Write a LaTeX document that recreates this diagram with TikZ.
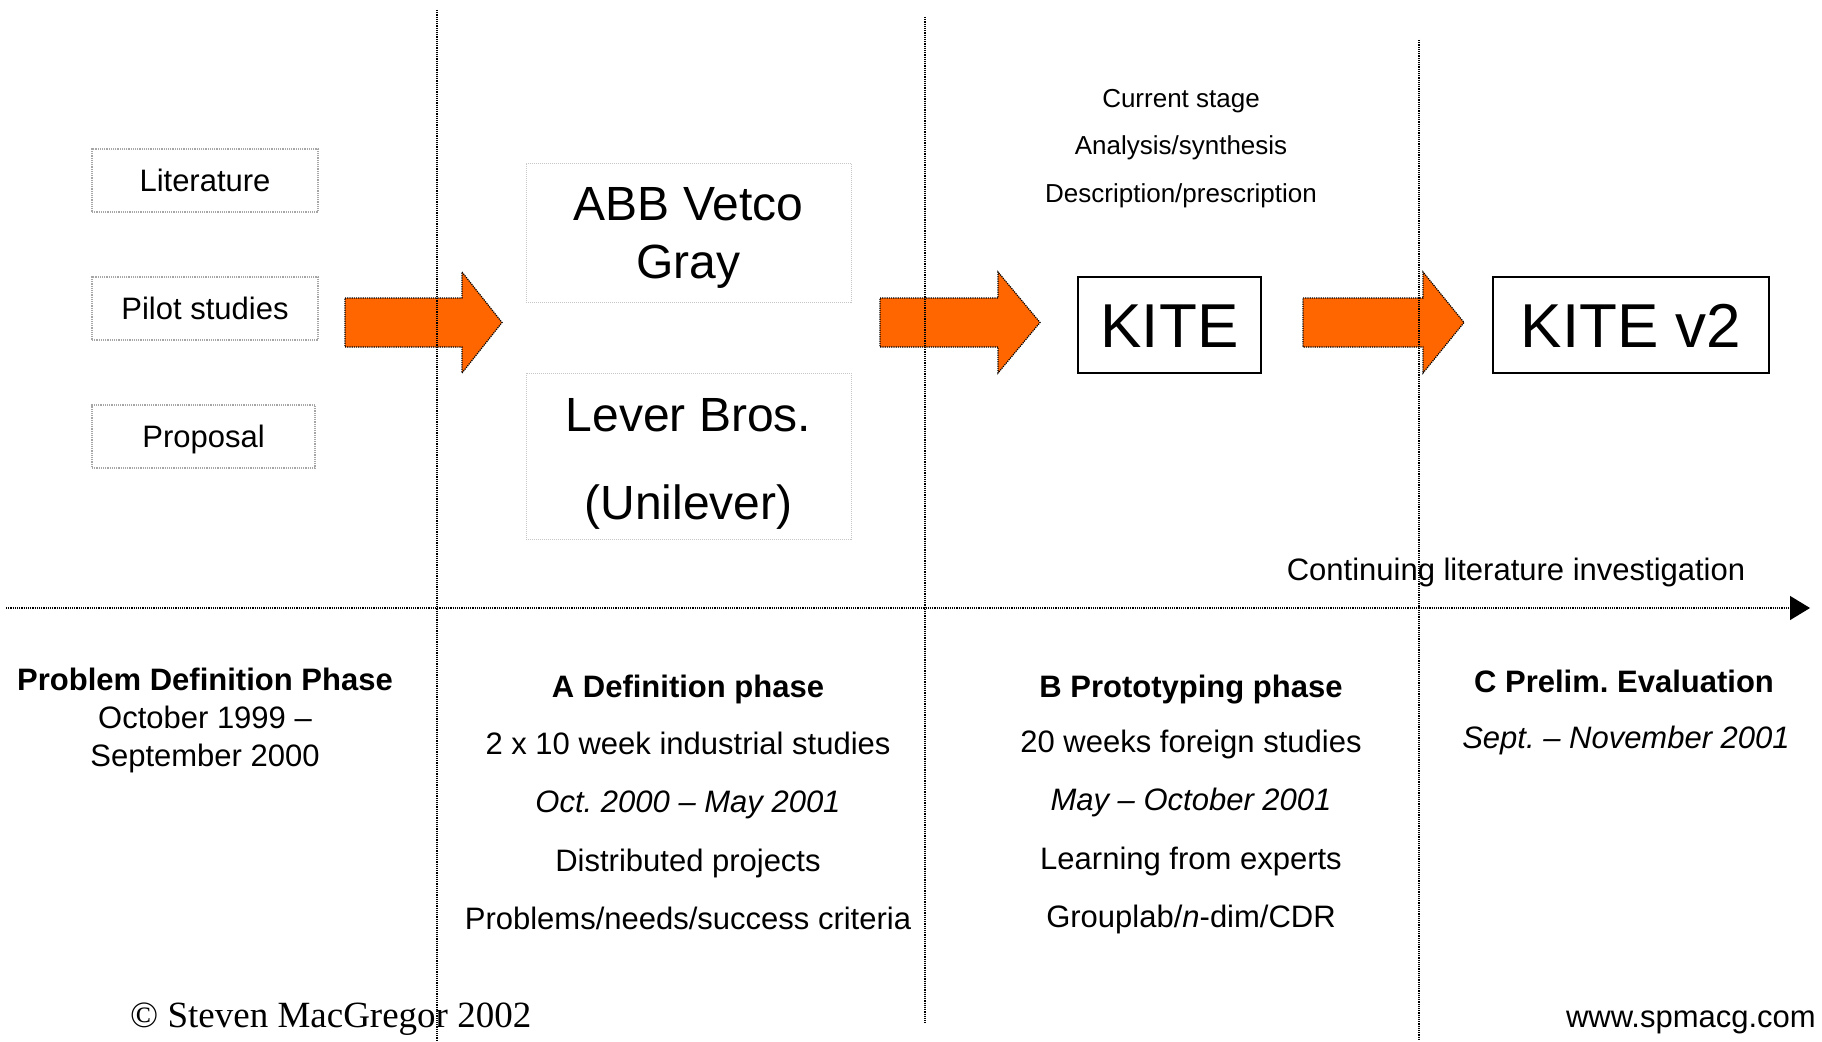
\documentclass[tikz,border=0pt]{standalone}
\usepackage{fontspec}
\setmainfont{Liberation Sans}
\newfontfamily\timesfont{Liberation Serif}
\usepackage{tikz}
\usetikzlibrary{arrows.meta}
\definecolor{kiteorange}{HTML}{FF6600}
\frenchspacing
\tikzset{src box/.style={draw=gray!70,densely dotted,line width=1.2pt,minimum width=226pt,minimum height=63pt,text height=22pt,text depth=0pt,inner sep=0pt,font=\fontsize{31}{37}\selectfont},
}

\begin{document}
\begin{tikzpicture}[x=1pt,y=-1pt,
firm box/.style={draw=gray!45,densely dotted,line width=1pt,minimum width=325pt,inner sep=0pt,align=center},
tool box/.style={draw,line width=1.5pt,minimum height=96pt,text height=44pt,text depth=0pt,inner sep=0pt,font=\fontsize{62}{70}\selectfont},
big arrow/.style={fill=kiteorange,draw,densely dotted,line width=1.2pt},
sep line/.style={densely dotted,line width=1.2pt},
txt/.style={anchor=base,font=\fontsize{31}{37}\selectfont},
small txt/.style={anchor=base,font=\fontsize{26}{30}\selectfont}]

\useasboundingbox (0,0) rectangle (1822,1041);

\node[src box] (lit) at (205,180.5) {Literature};
\node[src box] (pilot) at (205,308.5) {Pilot studies};
\node[src box,minimum width=223pt] (prop) at (203.5,436.5) {Proposal};

\node[firm box,minimum height=139pt,font=\fontsize{48}{58}\selectfont] (abb) at (688.5,232.5) {\rule{0pt}{44pt}ABB Vetco\\Gray};
\node[firm box,minimum height=166pt,font=\fontsize{48}{88}\selectfont] (lever) at (688.5,456) {\rule{0pt}{49pt}Lever Bros.\\(Unilever)};

\node[tool box,minimum width=183pt] (kite) at (1169.5,325) {KITE};
\node[tool box,minimum width=276pt] (kite2) at (1631,325) {KITE v2};

\foreach \xa/\xb/\xc in {345/462/502, 880/998/1040, 1303/1423/1464}
  \draw[big arrow] (\xa,298) -- (\xb,298) -- (\xb,272) -- (\xc,322.5) -- (\xb,373) -- (\xb,347) -- (\xa,347) -- cycle;

\node[small txt] (stage) at (1181,107) {Current stage};
\node[small txt] (anal) at (1181,154) {Analysis/synthesis};
\node[small txt] (descr) at (1181,202) {Description/prescription};

\node[txt] (cont) at (1516,580) {Continuing literature investigation};

\coordinate (t0) at (6,608);
\coordinate (t1) at (1810,608);
\draw[sep line,-{Triangle[length=20pt,width=24pt]}] (t0) -- (t1);

\draw[sep line] (437,10) -- (437,1041);
\draw[sep line] (925,17) -- (925,1023);
\draw[sep line] (1419,40) -- (1419,1041);

\node[txt] (pdp) at (205,690) {\bfseries Problem Definition Phase};
\node[txt] (pdp1) at (205,728) {October 1999 --};
\node[txt] (pdp2) at (205,766) {September 2000};

\node[txt] (adp) at (688,697) {\bfseries A Definition phase};
\node[txt] (adp1) at (688,754) {2 x 10 week industrial studies};
\node[txt] (adp2) at (688,812) {\itshape Oct. 2000 -- May 2001};
\node[txt] (adp3) at (688,871) {Distributed projects};
\node[txt] (adp4) at (688,929) {Problems/needs/success criteria};

\node[txt] (bpp) at (1191,697) {\bfseries B Prototyping phase};
\node[txt] (bpp1) at (1191,752) {20 weeks foreign studies};
\node[txt] (bpp2) at (1191,810) {\itshape May -- October 2001};
\node[txt] (bpp3) at (1191,869) {Learning from experts};
\node[txt] (bpp4) at (1191,927) {Grouplab/\textit{n}-dim/CDR};

\node[txt] (cpe) at (1624,692) {\bfseries C Prelim. Evaluation};
\node[txt] (cpe1) at (1626,748) {\itshape Sept. -- November 2001};

\node[anchor=base west,inner sep=0pt,font=\timesfont\fontsize{37}{44}\selectfont] (copy) at (130,1027) {\textcopyright{} Steven MacGregor 2002};
\node[anchor=base east,inner sep=0pt,font=\fontsize{31}{37}\selectfont] (web) at (1816,1027) {www.spmacg.com};
\end{tikzpicture}
\end{document}
